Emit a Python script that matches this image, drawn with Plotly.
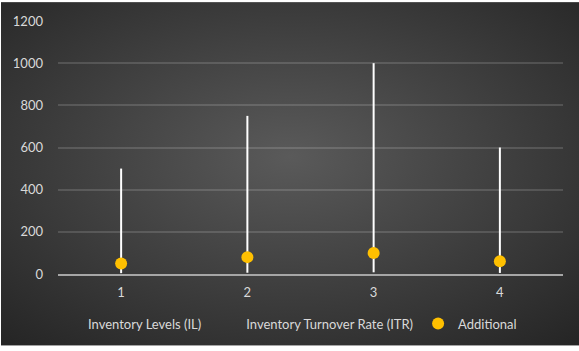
import base64
import plotly.graph_objects as go

# Data
categories = [1, 2, 3, 4]
inventory_levels = [500, 750, 1000, 600]
turnover_rate = [4, 6, 8, 5]
additional = [50, 80, 100, 60]
y_ticks = [0, 200, 400, 600, 800, 1000, 1200]

W, H = 579, 351
M = dict(l=58, r=16, t=21, b=75)

# Radial gradient backdrop as an inline SVG
svg = (
    '<svg xmlns="http://www.w3.org/2000/svg" width="579" height="351" viewBox="0 0 579 351">'
    '<defs><radialGradient id="g" cx="50%" cy="45%" r="75%">'
    '<stop offset="0%" stop-color="#5a5a5a"/>'
    '<stop offset="100%" stop-color="#242424"/>'
    '</radialGradient></defs>'
    '<rect width="579" height="351" fill="#ffffff"/>'
    '<rect x="1" y="2" width="578" height="346" fill="url(#g)"/>'
    '</svg>'
)
bg_src = "data:image/svg+xml;base64," + base64.b64encode(svg.encode()).decode()

pw = W - M["l"] - M["r"]
ph = H - M["t"] - M["b"]

fig = go.Figure()

# High-low stems between the lowest and highest value of each category
stem_x, stem_y = [], []
for c, a, b, d in zip(categories, inventory_levels, turnover_rate, additional):
    stem_x += [c, c, None]
    stem_y += [min(a, b, d), max(a, b, d), None]
fig.add_trace(go.Scatter(
    x=stem_x, y=stem_y, mode="lines",
    line=dict(color="#ffffff", width=2),
    showlegend=False, hoverinfo="skip",
))

# Series without markers (shown in legend only by name)
fig.add_trace(go.Scatter(
    x=categories, y=inventory_levels, mode="lines",
    line=dict(color="rgba(0,0,0,0)", width=0),
    name="Inventory Levels (IL)",
))
fig.add_trace(go.Scatter(
    x=categories, y=turnover_rate, mode="lines",
    line=dict(color="rgba(0,0,0,0)", width=0),
    name="Inventory Turnover Rate (ITR)",
))
fig.add_trace(go.Scatter(
    x=categories, y=additional, mode="markers",
    marker=dict(color="#ffc000", size=12, line=dict(width=0)),
    name="Additional",
))

font = dict(family="Lato, Carlito, 'Open Sans', sans-serif", size=13, color="#d9d9d9")

fig.update_layout(
    width=W, height=H,
    margin=M,
    paper_bgcolor="#ffffff",
    plot_bgcolor="rgba(0,0,0,0)",
    font=font,
    images=[dict(
        source=bg_src, xref="paper", yref="paper",
        x=-M["l"] / pw, y=1 + M["t"] / ph,
        sizex=W / pw, sizey=H / ph,
        sizing="stretch", layer="below",
        xanchor="left", yanchor="top",
    )],
    xaxis=dict(
        range=[0.5, 4.5], tickvals=categories, ticktext=[str(c) for c in categories],
        showgrid=False, zeroline=False,
        showline=True, linecolor="#a6a6a6", linewidth=1.5,
        ticks="", ticklabelstandoff=6,
    ),
    yaxis=dict(
        range=[0, 1200], tickvals=y_ticks,
        showgrid=True, gridcolor="rgba(255,255,255,0.14)", gridwidth=1.5,
        zeroline=False, showline=False, ticks="", ticklabelstandoff=14,
    ),
    legend=dict(
        orientation="h", x=(48 - M["l"]) / pw, xanchor="left",
        y=-(326 - M["t"] - ph) / ph, yanchor="middle",
        bgcolor="rgba(0,0,0,0)", font=font, itemwidth=30,
    ),
    hovermode=False,
)

fig.write_html("out.html")
